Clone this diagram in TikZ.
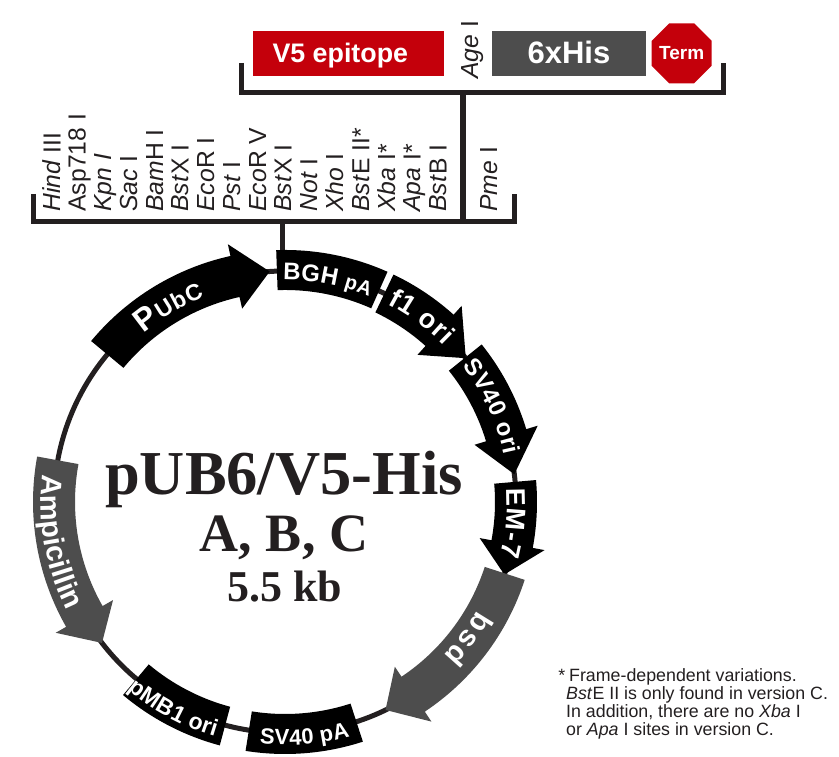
\documentclass[tikz,border=0pt]{standalone}
\usepackage{fontspec}
\setmainfont{Liberation Sans}
\newfontfamily\timesfont{Liberation Serif}
\usetikzlibrary{shapes.geometric}
\usetikzlibrary{decorations.text}
\definecolor{termred}{HTML}{C4000B}
\definecolor{geneGray}{HTML}{4D4D4D}
\definecolor{inkblack}{HTML}{231F20}
\tikzset{
	site/.style={rotate=90,anchor=base west,inner sep=0pt,text=inkblack,font=\fontsize{24.7}{24.7}\selectfont},
	titletext/.style={anchor=base,inner sep=0pt,text=inkblack},
	tagbox/.style={inner sep=0pt,minimum height=45pt,text=white,text depth=0pt},
	bracket/.style={draw=inkblack,line width=5pt},
}
% tail, head base, tip (degrees)
\newcommand{\genearrow}[4]{\fill[#1] (#2:252) arc[start angle=#2,end angle=#3,radius=252] -- (#3:264) -- (#4:231) -- (#3:198) -- (#3:210) arc[start angle=#3,end angle=#2,radius=210] -- cycle;}
\newcommand{\genebox}[3]{\fill[#1] (#2:252) arc[start angle=#2,end angle=#3,radius=252] -- (#3:212) arc[start angle=#3,end angle=#2,radius=212] -- cycle;}
% from, to, baseline radius, text
\newcommand{\genelabel}[4]{\path[decorate,decoration={text along path,text color=white,text align={fit to path},text={#4}}] (#1:#3) arc[start angle=#1,end angle=#2,radius=#3];}
\newcommand{\lab}[1]{|\bfseries\fontsize{#1}{#1}\selectfont|}
\begin{document}
\begin{tikzpicture}[x=1pt,y=1pt]
	\useasboundingbox (0,0) rectangle (839,757);

	%TOP BRACKET
	\coordinate (TL) at (241.5,694);
	\coordinate (TR) at (723.5,694);
	\coordinate (TC) at (463,664.5);
	\coordinate (MC) at (463,535.5);
	\draw[bracket] (TL) |- (TC) -| (TR);
	\draw[bracket,line width=5.5pt] (TC) -- (MC);

	%MCS BRACKET
	\coordinate (ML) at (33.5,563);
	\coordinate (MR) at (514.5,563);
	\coordinate (MS) at (282.5,535.5);
	\coordinate (VT) at (282.5,500);
	\draw[bracket] (ML) |- (MC) -| (MR);
	\draw[bracket] (MS) -- (VT);

	%TAGS
	\node[tagbox,fill=termred,minimum width=191.3pt,text height=19pt,font=\bfseries\fontsize{26.8}{26.8}\selectfont] (Vfive) at (348.3,703.5) {V5 epitope\hspace*{16pt}};
	\node[tagbox,fill=geneGray,minimum width=154pt,text height=21pt,font=\bfseries\fontsize{31}{31}\selectfont] (His) at (569,703.5) {6xHis};
	\node[regular polygon,regular polygon sides=8,fill=termred,inner sep=0pt,minimum size=65pt] (Stop) at (681.7,703.7) {};
	\node[inner sep=0pt,text=white,font=\bfseries\fontsize{19}{19}\selectfont] (Term) at (Stop) {Term};
	\node[site] (Age) at (478,678) {\textit{Age} I};

	%SITES
	\node[site] (Hind) at (60.7,545.3) {\textit{Hind} III};
	\node[site] (Asp) at (85.7,545.3) {Asp718 I};
	\node[site] (Kpn) at (111.5,545.3) {\textit{Kpn I}};
	\node[site] (Sac) at (137.2,545.3) {\textit{Sac} I};
	\node[site] (Bam) at (163,545.3) {\textit{Bam}H I};
	\node[site] (BstXa) at (188.5,545.3) {\textit{Bst}X I};
	\node[site] (Eco) at (214.2,545.3) {\textit{Eco}R I};
	\node[site] (Pst) at (240,545.3) {\textit{Pst} I};
	\node[site] (EcoV) at (266,545.3) {\textit{Eco}R V};
	\node[site] (BstXb) at (291.7,545.3) {\textit{Bst}X I};
	\node[site] (Not) at (317.3,545.3) {\textit{Not} I};
	\node[site] (Xho) at (343.2,545.3) {\textit{Xho} I};
	\node[site] (BstE) at (369.3,545.3) {\textit{Bst}E II*};
	\node[site] (Xba) at (395,545.3) {\textit{Xba} I*};
	\node[site] (Apa) at (420.7,545.3) {\textit{Apa} I*};
	\node[site] (BstB) at (446.7,545.3) {\textit{Bst}B I};
	\node[site] (Pme) at (497,545.3) {\textit{Pme} I};

	%PLASMID
	\begin{scope}[shift={(285,255)}]
		\coordinate (O) at (0,0);
		\draw[draw=inkblack,line width=5pt] (O) circle[radius=231];
		\genearrow{black}{140.3}{102.5}{93.8}
		\genebox{black}{92}{66}
		\genearrow{black}{64.5}{48}{38.5}
		\genearrow{black}{38.7}{16.8}{6.9}
		\genearrow{black}{5}{-10.5}{-18.3}
		\genearrow{geneGray}{-18}{-56.3}{-64.2}
		\genebox{black}{-72}{-99}
		\genebox{black}{-105}{-130}
		\genearrow{geneGray}{169.6}{209.7}{217.6}
		\genelabel{130}{111.5}{220}{\lab{32}P\lab{23}UbC}
		\genelabel{90.5}{67.7}{222}{\lab{24}BGH \lab{20}pA}
		\genelabel{62.5}{44.5}{223}{\lab{27}f1 ori}
		\genelabel{37.5}{12}{224}{\lab{24}SV40 ori}
		\genelabel{3.5}{-14}{222}{\lab{27}EM-7}
		\genelabel{-29.5}{-44}{221}{\lab{29}bsd}
		\genelabel{173.5}{206.5}{244}{\lab{29}Ampicillin}
		\genelabel{230}{253.4}{245}{\lab{23}pMB1 ori}
		\genelabel{264}{285.5}{243}{\lab{22}SV40 pA}
	\end{scope}

	%CENTRE
	\node[titletext,font=\timesfont\bfseries\fontsize{62.5}{62.5}\selectfont] (Name) at (284,262) {pUB6/V5-His};
	\node[titletext,font=\timesfont\bfseries\fontsize{54}{54}\selectfont] (Vers) at (284,205.3) {A, B, C};
	\node[titletext,font=\timesfont\bfseries\fontsize{44}{44}\selectfont] (Size) at (284.5,155.3) {5.5 kb};

	%NOTE
	\node[anchor=north west,inner sep=0pt,align=left,text=inkblack,font=\fontsize{17.8}{18}\selectfont] (Note) at (566,89) {\llap{*\hspace{1pt}}\hspace{3pt}Frame-dependent variations.\\\textit{Bst}E II is only found in version C.\\In addition, there are no \textit{Xba} I\\or \textit{Apa} I sites in version C.};
\end{tikzpicture}
\end{document}
